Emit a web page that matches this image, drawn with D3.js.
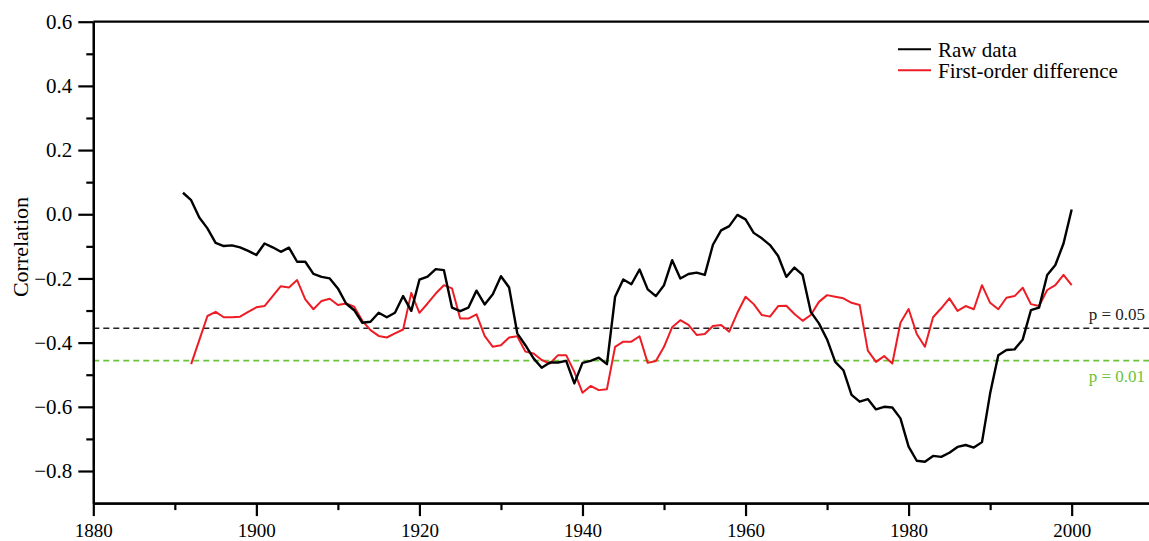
<!DOCTYPE html>
<html>
<head>
<meta charset="utf-8">
<script src="https://cdn.jsdelivr.net/npm/d3@7"></script>
<style>
  body { margin: 0; background: #fff; }
  svg { display: block; }
  svg text { font-family: "Liberation Serif", "Times New Roman", serif; }
</style>
</head>
<body>
<div id="chart"></div>
<script>
// first year of each series
const rawStart = 1891
const diffStart = 1892

// Raw data correlation, 1891-2000
const rawValues = [
  0.067, 0.044, -0.010, -0.044, -0.089, -0.099, -0.097, -0.103, -0.114,
  -0.127, -0.091, -0.103, -0.117, -0.104, -0.148, -0.148, -0.186, -0.195, -0.200,
  -0.231, -0.278, -0.299, -0.338, -0.335, -0.307, -0.321, -0.307, -0.255, -0.301,
  -0.204, -0.194, -0.171, -0.174, -0.291, -0.302, -0.291, -0.238, -0.281, -0.249,
  -0.193, -0.228, -0.371, -0.408, -0.449, -0.478, -0.462, -0.462, -0.457, -0.527,
  -0.463, -0.457, -0.447, -0.467, -0.257, -0.203, -0.218, -0.172, -0.234, -0.255,
  -0.221, -0.143, -0.200, -0.186, -0.182, -0.189, -0.095, -0.050, -0.037, -0.002,
  -0.016, -0.058, -0.075, -0.096, -0.130, -0.195, -0.166, -0.189, -0.304, -0.340,
  -0.390, -0.460, -0.486, -0.563, -0.584, -0.576, -0.608, -0.600, -0.602, -0.636,
  -0.724, -0.768, -0.771, -0.753, -0.756, -0.743, -0.725, -0.719, -0.727, -0.710,
  -0.558, -0.439, -0.423, -0.421, -0.390, -0.299, -0.291, -0.189, -0.158, -0.091,
  0.015
]

// First-order difference correlation, 1892-2000
const diffValues = [
  -0.467, -0.392, -0.317, -0.304, -0.321, -0.321, -0.319, -0.304,
  -0.290, -0.286, -0.255, -0.224, -0.228, -0.205, -0.265, -0.296, -0.270, -0.263,
  -0.283, -0.278, -0.288, -0.332, -0.361, -0.379, -0.384, -0.371, -0.359, -0.245,
  -0.307, -0.278, -0.247, -0.221, -0.231, -0.325, -0.325, -0.312, -0.379, -0.413,
  -0.408, -0.384, -0.380, -0.428, -0.434, -0.454, -0.465, -0.439, -0.439, -0.491,
  -0.556, -0.535, -0.548, -0.545, -0.413, -0.397, -0.397, -0.380, -0.463, -0.457,
  -0.413, -0.352, -0.330, -0.345, -0.376, -0.373, -0.348, -0.345, -0.366, -0.307,
  -0.257, -0.280, -0.314, -0.319, -0.286, -0.285, -0.311, -0.332, -0.314, -0.273,
  -0.252, -0.257, -0.262, -0.276, -0.283, -0.425, -0.460, -0.442, -0.465, -0.338,
  -0.295, -0.373, -0.413, -0.321, -0.293, -0.262, -0.301, -0.286, -0.296, -0.221,
  -0.276, -0.296, -0.260, -0.255, -0.229, -0.280, -0.286, -0.236, -0.221, -0.189,
  -0.221
]

// significance thresholds
const thresholds = [
  {label: "p = 0.05", value: -0.355, color: "#222"},
  {label: "p = 0.01", value: -0.456, color: "#6cc23a"}
]

const xMajor = [1880, 1900, 1920, 1940, 1960, 1980, 2000]
const xMinor = [1890, 1910, 1930, 1950, 1970, 1990]
const yMajor = [-0.8, -0.6, -0.4, -0.2, 0.0, 0.2, 0.4, 0.6]
const yMinor = [-0.7, -0.5, -0.3, -0.1, 0.1, 0.3, 0.5]

const legendItems = [
  {label: "Raw data", color: "#000"},
  {label: "First-order difference", color: "#ee1c24"}
]

const width = 1149
const height = 541
const serif = '"Liberation Serif", "Times New Roman", serif'

const svg = d3.select('#chart').append('svg')
  .attr('width', width)
  .attr('height', height)

const x = d3.scaleLinear().domain([1880, 2010]).range([93.3, 1153.2])
const y = d3.scaleLinear().domain([-0.9, 0.6]).range([503.1, 21.7])

const rawData = rawValues.map((v, i) => ({year: rawStart + i, value: v}))
const diffData = diffValues.map((v, i) => ({year: diffStart + i, value: v}))

// threshold lines
svg.selectAll('.thr')
  .data(thresholds)
  .join('line')
  .attr('class', 'thr')
  .attr('x1', x(1880))
  .attr('x2', width)
  .attr('y1', d => y(d.value))
  .attr('y2', d => y(d.value))
  .attr('stroke', d => d.color)
  .attr('stroke-width', 1.6)
  .attr('stroke-dasharray', '6,4')

svg.selectAll('.thr-label')
  .data(thresholds)
  .join('text')
  .attr('class', 'thr-label')
  .attr('x', 1145)
  .attr('y', (d, i) => i === 0 ? y(d.value) - 8 : y(d.value) + 21)
  .attr('text-anchor', 'end')
  .style('font-size', '17px')
  .attr('fill', d => d.color)
  .text(d => d.label)

// series
const line = d3.line()
  .x(d => x(d.year))
  .y(d => y(d.value))

svg.append('path')
  .datum(diffData)
  .attr('fill', 'none')
  .attr('stroke', '#ee1c24')
  .attr('stroke-width', 2)
  .attr('stroke-linejoin', 'round')
  .attr('d', line)

svg.append('path')
  .datum(rawData)
  .attr('fill', 'none')
  .attr('stroke', '#000')
  .attr('stroke-width', 2.4)
  .attr('stroke-linejoin', 'round')
  .attr('d', line)

// axes
const styleAxis = size => g => {
  g.attr('font-family', serif)
  g.selectAll('path, line').attr('stroke', '#000').attr('stroke-width', 2.2)
  g.selectAll('text')
    .attr('fill', '#000')
    .style('font-family', serif)
    .style('font-size', size + 'px')
}

svg.append('g')
  .attr('transform', `translate(0,${y(-0.9)})`)
  .call(d3.axisBottom(x).tickValues(xMinor).tickSize(7).tickSizeOuter(0).tickFormat(''))
  .call(styleAxis(19))

svg.append('g')
  .attr('transform', `translate(0,${y(-0.9)})`)
  .call(d3.axisBottom(x).tickValues(xMajor).tickSize(13).tickPadding(7).tickSizeOuter(0).tickFormat(d3.format('d')))
  .call(styleAxis(19))

svg.append('g')
  .attr('transform', `translate(${x(1880)},0)`)
  .call(d3.axisLeft(y).tickValues(yMinor).tickSize(7).tickSizeOuter(0).tickFormat(''))
  .call(styleAxis(21))

svg.append('g')
  .attr('transform', `translate(${x(1880)},0)`)
  .call(d3.axisLeft(y).tickValues(yMajor).tickSize(15).tickPadding(6).tickSizeOuter(0).tickFormat(d3.format('.1f')))
  .call(styleAxis(21))

// top frame line
svg.append('line')
  .attr('x1', x(1880))
  .attr('x2', width)
  .attr('y1', y(0.6))
  .attr('y2', y(0.6))
  .attr('stroke', '#000')
  .attr('stroke-width', 2.2)

svg.append('text')
  .attr('transform', 'translate(28,247) rotate(-90)')
  .attr('text-anchor', 'middle')
  .style('font-size', '22px')
  .text('Correlation')

// legend
const legend = svg.append('g')
  .selectAll('g')
  .data(legendItems)
  .join('g')
  .attr('transform', (d, i) => `translate(898,${49.3 + i * 21})`)

legend.append('line')
  .attr('x1', 0).attr('x2', 33)
  .attr('stroke', d => d.color)
  .attr('stroke-width', 2)

legend.append('text')
  .attr('x', 40)
  .attr('y', 8)
  .style('font-size', '21px')
  .text(d => d.label)
</script>
</body>
</html>
